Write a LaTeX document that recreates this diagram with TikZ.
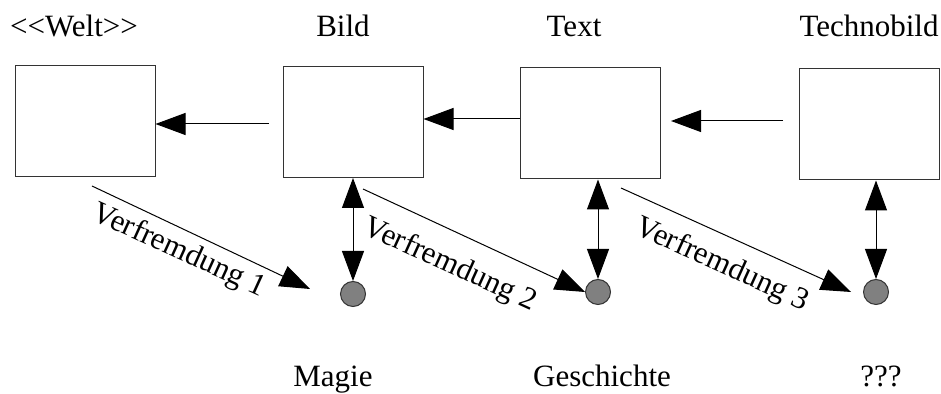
\documentclass[tikz,border=0pt]{standalone}
\usepackage{fontspec}
\setmainfont{Liberation Serif}
\usetikzlibrary{arrows.meta}
\tikzset{frame/.style = {draw=black!80, line width=0.5pt, minimum width=70pt,
                         minimum height=55.5pt, inner sep=0}}
\tikzset{dot/.style = {circle, draw=black!80, line width=0.5pt, fill=gray,
                       minimum size=12.5pt, inner sep=0}}
\tikzset{lbl/.style = {font=\fontsize{15.5}{18}\selectfont, anchor=base, inner sep=0}}
\tikzset{tip/.style = {-{Triangle[length=15pt,width=11pt]}, line width=0.5pt}}
\tikzset{both/.style = {{Triangle[length=15pt,width=11pt]}-{Triangle[length=15pt,width=11pt]},
                        line width=0.5pt}}
\begin{document}
\begin{tikzpicture}[x=0.5pt,y=-0.5pt]
      \useasboundingbox (0,0) rectangle (941,394);

      \node[frame] (welt) at (85,121) {};
      \node[frame] (bild) at (353,122) {};
      \node[frame] (text) at (590.5,123.5) {};
      \node[frame] (techno) at (869,124.5) {};

      \node[lbl] (lwelt) at (74,37) {<{}<Welt>{}>};
      \node[lbl] (lbild) at (343,37) {Bild};
      \node[lbl] (ltext) at (574,37) {Text};
      \node[lbl] (ltechno) at (869,37) {Technobild};

      \node[dot] (magie) at (353,294) {};
      \node[dot] (gesch) at (598,292) {};
      \node[dot] (unkn) at (876,292) {};

      \node[lbl] (lmagie) at (333,387) {Magie};
      \node[lbl] (lgesch) at (602,387) {Geschichte};
      \node[lbl] (lunkn) at (881,387) {???};

      % horizontal arrows
      \coordinate (h1) at (269,124);
      \coordinate (h2) at (520,119);
      \coordinate (h3) at (783,121);
      \draw[tip] (h1) -- (h1 -| welt.east);
      \draw[tip] (h2) -- (h2 -| bild.east);
      \draw[tip] (h3) -- ([xshift=5pt]h3 -| text.east);

      % vertical arrows
      \draw[both] (magie.north |- bild.south) -- (magie.north);
      \draw[both] (gesch.north |- text.south) -- (gesch.north);
      \draw[both] (unkn.north |- techno.south) -- (unkn.north);

      % diagonal arrows
      \coordinate (v1) at (92,186);
      \coordinate (v2) at (363,189);
      \coordinate (v3) at (621,188);
      \draw[tip] (v1) -- ([xshift=-15pt,yshift=2.5pt]magie.west);
      \draw[tip] (v2) -- (gesch.west);
      \draw[tip] (v3) -- ([xshift=-6pt]unkn.west);

      \node[lbl, anchor=center, rotate=-24.5] (vf1) at (179,251) {Verfremdung 1};
      \node[lbl, anchor=center, rotate=-24.5] (vf2) at (450,265) {Verfremdung 2};
      \node[lbl, anchor=center, rotate=-24.5] (vf3) at (722,265) {Verfremdung 3};
    \end{tikzpicture}
\end{document}
